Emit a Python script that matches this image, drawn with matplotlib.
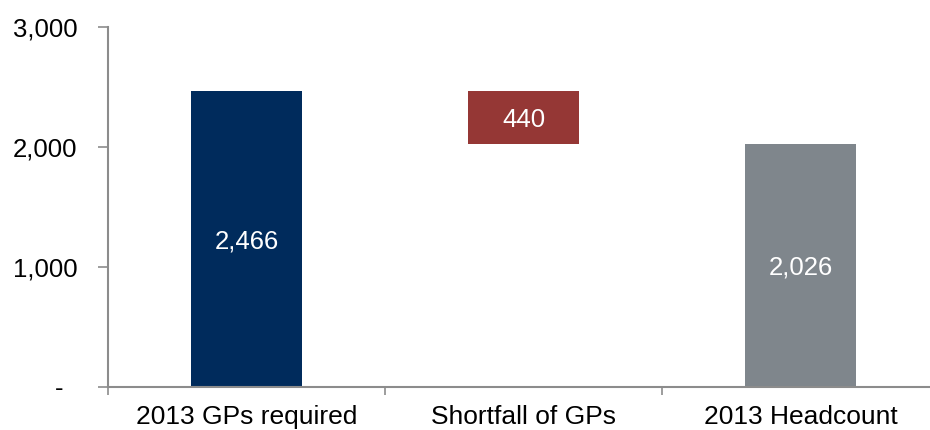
import matplotlib

matplotlib.use("Agg")
import matplotlib.pyplot as plt
from matplotlib.ticker import FixedLocator, FuncFormatter

plt.rcParams["font.family"] = ["Liberation Sans", "DejaVu Sans"]

# GP workforce waterfall
categories = ["2013 GPs required", "Shortfall of GPs", "2013 Headcount"]
required = 2466
headcount = 2026
shortfall = required - headcount  # 440

bar_bottoms = [0, headcount, 0]
bar_heights = [required, shortfall, headcount]
bar_colors = ["#002B5C", "#953735", "#7F868C"]

y_ticks = [0, 1000, 2000, 3000]

fig = plt.figure(figsize=(9.3, 4.3), dpi=100)
ax = fig.add_axes([108 / 930, 43 / 430, 831 / 930, 360 / 430])

x = list(range(len(categories)))
bars = ax.bar(x, bar_heights, bottom=bar_bottoms, width=0.4, color=bar_colors)

# value labels in the middle of each bar
for bar, h in zip(bars, bar_heights):
    ax.text(
        bar.get_x() + bar.get_width() / 2.0,
        bar.get_y() + h / 2.0 - 20,
        f"{h:,}",
        ha="center",
        va="center",
        color="white",
        fontsize=18.5,
    )

ax.set_xlim(-0.5, 2.5)
ax.set_ylim(0, 3000)

# accounting-style labels: zero shown as a dash
ax.set_yticks(y_ticks)
ax.yaxis.set_major_formatter(FuncFormatter(lambda v, _: "-  " if v == 0 else f"{v:,.0f}"))
ax.tick_params(axis="y", length=7, width=1.2, color="#8C8C8C", pad=15, labelsize=18.5)

# category labels without ticks, short ticks at the category boundaries
ax.set_xticks(x)
ax.set_xticklabels(categories)
ax.xaxis.set_minor_locator(FixedLocator([-0.5, 0.5, 1.5, 2.5]))
ax.tick_params(axis="x", which="major", length=0, pad=13, labelsize=19)
ax.tick_params(axis="x", which="minor", length=6, width=1.2, color="#8C8C8C")

for side in ["top", "right"]:
    ax.spines[side].set_visible(False)
for side in ["left", "bottom"]:
    ax.spines[side].set_color("#8C8C8C")
    ax.spines[side].set_linewidth(1.5)

fig.savefig("out.png", dpi=100)
